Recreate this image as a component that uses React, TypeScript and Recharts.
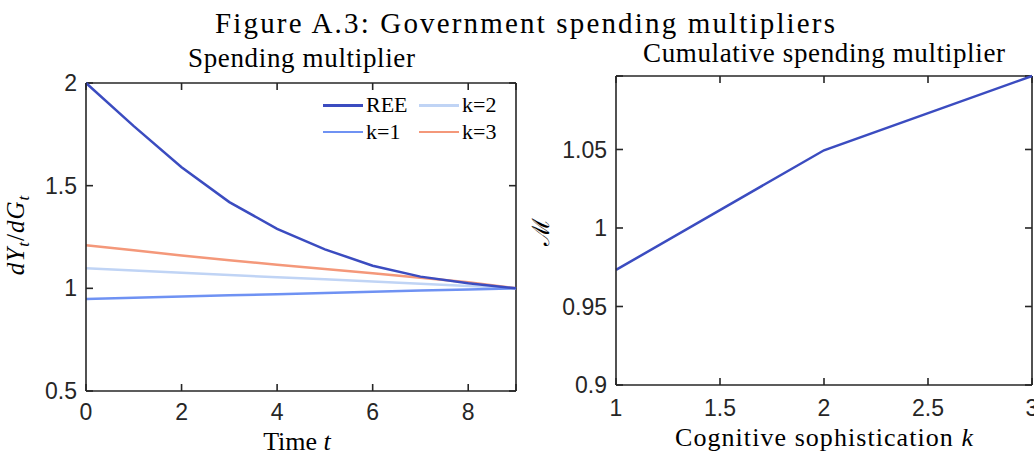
import React from 'react';
import { LineChart, Line, XAxis, YAxis, CartesianGrid, ReferenceLine } from 'recharts';

// spending multiplier path (left panel)
const periods = [0, 1, 2, 3, 4, 5, 6, 7, 8, 9];
const reeValues = [2.0, 1.79, 1.59, 1.42, 1.29, 1.19, 1.11, 1.057, 1.025, 1.0];
const k1Values = [0.948, 0.954, 0.96, 0.966, 0.971, 0.977, 0.983, 0.989, 0.994, 1.0];
const k2Values = [1.098, 1.087, 1.076, 1.065, 1.054, 1.044, 1.033, 1.022, 1.011, 1.0];
const k3Values = [1.21, 1.185, 1.16, 1.137, 1.115, 1.094, 1.073, 1.052, 1.03, 1.0];
const timeTicks = [0, 2, 4, 6, 8];
const multTicks = [0.5, 1, 1.5, 2];

// cumulative multiplier (right panel)
const sophistication = [1, 2, 3];
const cumMultiplier = [0.9733, 1.0495, 1.0968];
const kTicks = [1, 1.5, 2, 2.5, 3];
const cumTicks = [0.9, 0.95, 1, 1.05];

const seriesNames = ['REE', 'k=1', 'k=2', 'k=3'];
const seriesColors = ['#3b4cc0', '#6f92f3', '#c0d4f5', '#f4987a'];

const pathData = periods.map((t, i) => ({
  t,
  ree: reeValues[i],
  k1: k1Values[i],
  k2: k2Values[i],
  k3: k3Values[i],
}));
const seriesKeys = ['ree', 'k1', 'k2', 'k3'];

const cumData = sophistication.map((k, i) => ({ k, m: cumMultiplier[i] }));
const cumMax = Math.max(...cumMultiplier);

const axisColor = '#262626';
const axisWidth = 1.6;
const TICK_LEN = 7;
const sans = '"Liberation Sans", Arial, Helvetica, sans-serif';
const serif = '"Liberation Serif", "Times New Roman", serif';
const tickFont = { fill: '#262626', fontSize: 23, fontFamily: sans };
const axisLine = { stroke: axisColor, strokeWidth: axisWidth };

// MATLAB-style inward ticks on all four sides, drawn off the grid lines
const VTicks = (p: any) => (
  <g key={`v${p.index}-${p.x1}`}>
    <line x1={p.x1} x2={p.x1} y1={p.y1} y2={p.y1 + TICK_LEN} stroke={axisColor} strokeWidth={axisWidth} />
    <line x1={p.x1} x2={p.x1} y1={p.y2} y2={p.y2 - TICK_LEN} stroke={axisColor} strokeWidth={axisWidth} />
  </g>
);
const HTicks = (p: any) => (
  <g key={`h${p.index}-${p.y1}`}>
    <line x1={p.x1} x2={p.x1 + TICK_LEN} y1={p.y1} y2={p.y1} stroke={axisColor} strokeWidth={axisWidth} />
    <line x1={p.x2} x2={p.x2 - TICK_LEN} y1={p.y1} y2={p.y1} stroke={axisColor} strokeWidth={axisWidth} />
  </g>
);

export default function App() {
  return (
    <div style={{ position: 'absolute', left: 0, top: 0, width: 1034, height: 455, background: '#fff' }}>
      {/* Titles and axis labels */}
      <svg width={1034} height={455} style={{ position: 'absolute', left: 0, top: 0 }}>
        <g fontFamily={serif} fill="#000">
          <text x={215} y={33} fontSize={29} textLength={620}>
            Figure A.3: Government spending multipliers
          </text>
          <text x={188} y={67} fontSize={27} textLength={227}>
            Spending multiplier
          </text>
          <text x={643} y={62} fontSize={27} textLength={362}>
            Cumulative spending multiplier
          </text>
          <text x={297} y={450} fontSize={26} textAnchor="middle">
            Time <tspan fontStyle="italic">t</tspan>
          </text>
          <text x={675} y={446} fontSize={26} textLength={298}>
            Cognitive sophistication <tspan fontStyle="italic">k</tspan>
          </text>
          <text x={24} y={235} fontSize={25} textAnchor="middle" transform="rotate(-90 24 235)" letterSpacing={1}>
            <tspan fontStyle="italic">dY</tspan>
            <tspan fontStyle="italic" fontSize={17} dy={5}>t</tspan>
            <tspan dy={-5}>/</tspan>
            <tspan fontStyle="italic">dG</tspan>
            <tspan fontStyle="italic" fontSize={17} dy={5}>t</tspan>
          </text>
          <text x={549} y={232} fontSize={24} textAnchor="middle" transform="rotate(-90 549 232)" fontFamily='"DejaVu Serif", serif'>
            ℳ
          </text>
        </g>
      </svg>

      {/* Left panel */}
      <div style={{ position: 'absolute', left: 0, top: 0 }}>
        <LineChart width={530} height={455} data={pathData} margin={{ top: 83, right: 14, bottom: 24, left: 26 }}>
          <CartesianGrid vertical={VTicks} horizontal={HTicks} />
          <XAxis
            dataKey="t"
            type="number"
            domain={[0, 9]}
            ticks={timeTicks}
            interval={0}
            height={40}
            axisLine={axisLine}
            tickLine={false}
            tickSize={0}
            tickMargin={13}
            tick={tickFont}
          />
          <YAxis
            type="number"
            domain={[0.5, 2]}
            ticks={multTicks}
            interval={0}
            width={60}
            axisLine={axisLine}
            tickLine={false}
            tickSize={0}
            tickMargin={9}
            tick={tickFont}
          />
          <ReferenceLine y={2} stroke={axisColor} strokeWidth={axisWidth} ifOverflow="visible" />
          <ReferenceLine x={9} stroke={axisColor} strokeWidth={axisWidth} ifOverflow="visible" />
          {[...seriesKeys].reverse().map((key) => {
            const i = seriesKeys.indexOf(key);
            return (
              <Line
                key={key}
                dataKey={key}
                name={seriesNames[i]}
                stroke={seriesColors[i]}
                strokeWidth={2.5}
                dot={false}
                type="linear"
                isAnimationActive={false}
              />
            );
          })}
        </LineChart>
      </div>

      {/* Right panel */}
      <div style={{ position: 'absolute', left: 540, top: 0 }}>
        <LineChart width={494} height={455} data={cumData} margin={{ top: 76, right: 2, bottom: 30, left: 16 }}>
          <CartesianGrid vertical={VTicks} horizontal={HTicks} />
          <XAxis
            dataKey="k"
            type="number"
            domain={[1, 3]}
            ticks={kTicks}
            interval={0}
            height={40}
            axisLine={axisLine}
            tickLine={false}
            tickSize={0}
            tickMargin={15}
            tick={tickFont}
          />
          <YAxis
            type="number"
            domain={[0.9, cumMax]}
            ticks={cumTicks}
            interval={0}
            width={60}
            axisLine={axisLine}
            tickLine={false}
            tickSize={0}
            tickMargin={9}
            tick={tickFont}
          />
          <ReferenceLine y={cumMax} stroke={axisColor} strokeWidth={axisWidth} ifOverflow="visible" />
          <ReferenceLine x={3} stroke={axisColor} strokeWidth={axisWidth} ifOverflow="visible" />
          <Line
            dataKey="m"
            stroke={seriesColors[0]}
            strokeWidth={2.5}
            dot={false}
            type="linear"
            isAnimationActive={false}
          />
        </LineChart>
      </div>

      {/* Legend */}
      <div
        style={{
          position: 'absolute',
          left: 323,
          top: 92,
          display: 'grid',
          gridAutoFlow: 'column',
          gridTemplateRows: 'repeat(2, 26.5px)',
          gridTemplateColumns: '96px 90px',
          fontFamily: serif,
          fontSize: 22,
          color: '#000',
        }}
      >
        {seriesNames.map((name, i) => (
          <div key={name} style={{ display: 'flex', alignItems: 'center', height: 26.5 }}>
            <span style={{ display: 'inline-block', width: 40, height: 2.5, background: seriesColors[i], marginRight: 3 }} />
            <span>{name}</span>
          </div>
        ))}
      </div>
    </div>
  );
}
